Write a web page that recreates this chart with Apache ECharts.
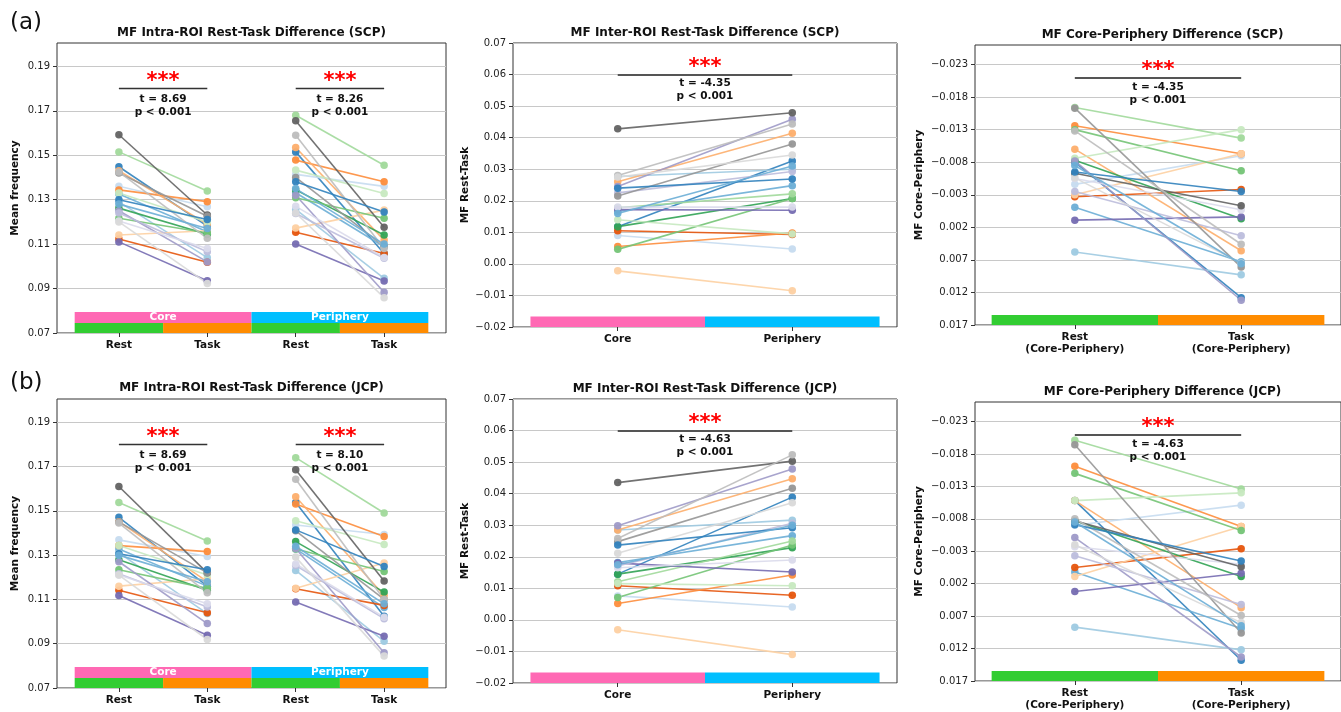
<!DOCTYPE html>
<html><head><meta charset="utf-8">
<script src="https://cdn.jsdelivr.net/npm/echarts@6/dist/echarts.min.js"></script>
<style>html,body{margin:0;padding:0;background:#fff}#c{width:1341px;height:712px}</style>
</head><body><div id="c"></div>
<script>
const FONT = '"DejaVu Sans", "Liberation Sans", sans-serif';

// ---- subject colours (tab20c, wrapping) ----
const subjectColors = ['#3182bd','#6baed6','#9ecae1','#c6dbef','#e6550d','#fd8d3c','#fdae6b','#fdd0a2',
  '#31a354','#74c476','#a1d99b','#c7e9c0','#756bb1','#9e9ac8','#bcbddc','#dadaeb',
  '#636363','#969696','#bdbdbd','#d9d9d9','#3182bd','#6baed6'];

// ---- tick labels / categories ----
const intraTicks = [0.07,0.09,0.11,0.13,0.15,0.17,0.19];
const interTicks = [-0.02,-0.01,0,0.01,0.02,0.03,0.04,0.05,0.06,0.07];
const diffTicks  = [-0.023,-0.018,-0.013,-0.008,-0.003,0.002,0.007,0.012,0.017];
const intraCategories = ['Rest','Task','Rest','Task'];
const intraGroups = ['Core','Periphery'];
const interCategories = ['Core','Periphery'];
const diffCategories = ['Rest\n(Core-Periphery)','Task\n(Core-Periphery)'];

// ---- (a) SCP ----
const scpIntraCoreRest = [0.1448,0.1325,0.1290,0.1360,0.1123,0.1344,0.1430,0.1141,0.1262,0.1216,0.1515,0.1330,0.1110,0.1250,0.1240,0.1204,0.1592,0.1420,0.1425,0.1200,0.1300,0.1280];
const scpIntraCoreTask = [0.1181,0.1156,0.1039,0.1268,0.1018,0.1291,0.1190,0.1160,0.1144,0.1150,0.1339,0.1200,0.0935,0.1020,0.1066,0.1080,0.1231,0.1225,0.1126,0.0923,0.1211,0.1170];
const scpIntraPeriRest = [0.1515,0.1331,0.1256,0.1414,0.1153,0.1478,0.1535,0.1172,0.1344,0.1309,0.1680,0.1433,0.1100,0.1320,0.1238,0.1270,0.1655,0.1400,0.1590,0.1240,0.1381,0.1350];
const scpIntraPeriTask = [0.1058,0.1088,0.0946,0.1360,0.1058,0.1381,0.1118,0.1253,0.1141,0.1216,0.1455,0.1328,0.0934,0.0883,0.1036,0.1040,0.1176,0.1090,0.1080,0.0859,0.1244,0.1100];
const scpInterCore = [0.0118,0.0166,0.0277,0.0090,0.0105,0.0055,0.0260,-0.0022,0.0118,0.0046,0.0178,0.0140,0.0172,0.0245,0.0225,0.0180,0.0428,0.0215,0.0280,0.0275,0.0240,0.0160];
const scpInterPeri = [0.0326,0.0248,0.0300,0.0047,0.0093,0.0098,0.0414,-0.0085,0.0207,0.0207,0.0222,0.0095,0.0170,0.0458,0.0293,0.0180,0.0479,0.0380,0.0443,0.0345,0.0269,0.0310];
const scpDiffRest = [-0.0080,-0.0011,0.0058,-0.0046,-0.0027,-0.0136,-0.0100,-0.0030,-0.0083,-0.0130,-0.0164,-0.0086,0.0009,-0.0082,-0.0035,-0.0055,-0.0063,-0.0163,-0.0128,-0.0056,-0.0065,-0.0075];
const scpDiffTask = [0.0128,0.0073,0.0093,-0.0090,-0.0038,-0.0093,0.0056,-0.0093,0.0007,-0.0067,-0.0117,-0.0130,0.0004,0.0132,0.0033,-0.0007,-0.0013,0.0081,0.0046,0.0075,-0.0035,0.0076];

// ---- (b) JCP ----
const jcpIntraCoreRest = [0.1471,0.1328,0.1310,0.1369,0.1141,0.1343,0.1451,0.1160,0.1279,0.1234,0.1538,0.1343,0.1118,0.1270,0.1216,0.1210,0.1610,0.1450,0.1445,0.1210,0.1306,0.1300];
const jcpIntraCoreTask = [0.1160,0.1160,0.1036,0.1294,0.1040,0.1316,0.1180,0.1193,0.1141,0.1150,0.1364,0.1210,0.0938,0.0991,0.1066,0.1080,0.1220,0.1220,0.1130,0.0919,0.1234,0.1180];
const jcpIntraPeriRest = [0.1538,0.1328,0.1231,0.1436,0.1148,0.1531,0.1564,0.1150,0.1361,0.1328,0.1740,0.1455,0.1088,0.1330,0.1253,0.1260,0.1685,0.1410,0.1643,0.1291,0.1414,0.1340];
const jcpIntraPeriTask = [0.1024,0.1063,0.0911,0.1393,0.1073,0.1384,0.1118,0.1264,0.1133,0.1226,0.1490,0.1348,0.0934,0.0859,0.1013,0.1020,0.1183,0.1100,0.1100,0.0844,0.1249,0.1080];
const jcpInterCore = [0.0145,0.0182,0.0285,0.0076,0.0108,0.0052,0.0285,-0.0031,0.0145,0.0071,0.0121,0.0115,0.0180,0.0298,0.0171,0.0165,0.0435,0.0248,0.0258,0.0211,0.0237,0.0175];
const jcpInterPeri = [0.0389,0.0267,0.0316,0.0041,0.0078,0.0142,0.0447,-0.0110,0.0229,0.0237,0.0250,0.0108,0.0152,0.0478,0.0306,0.0190,0.0503,0.0417,0.0523,0.0371,0.0292,0.0300];
const jcpDiffRest = [-0.0108,0.0002,0.0087,-0.0070,-0.0005,-0.0161,-0.0108,0.0009,-0.0077,-0.0150,-0.0201,-0.0108,0.0032,-0.0051,-0.0023,-0.0037,-0.0077,-0.0194,-0.0080,-0.0040,-0.0071,-0.0075];
const jcpDiffTask = [0.0138,0.0089,0.0122,-0.0101,-0.0034,-0.0068,0.0057,-0.0068,0.0009,-0.0062,-0.0126,-0.0120,0.0004,0.0133,0.0052,-0.0010,-0.0006,0.0096,0.0069,0.0080,-0.0015,0.0085];

// ---- statistics ----
const scpIntraT = ['8.69','8.26'];
const jcpIntraT = ['8.69','8.10'];
const scpInterT = ['-4.35'];
const jcpInterT = ['-4.63'];
const scpDiffT = ['-4.35'];
const jcpDiffT = ['-4.63'];
const pText = 'p < 0.001';

// ---------------- build ----------------
const kinds = {
  intra: {xMin:-0.7, xMax:3.7, yMin:0.07, yMax:0.2005, inverse:false, ticks:intraTicks, dec:2,
          cats:intraCategories, catPos:[0,1,2,3], name:'Mean frequency', nameGap:36,
          bracketY:0.18, textOff:17, starOff:-7, lineColor:'#333', lineWidth:1.3},
  inter: {xMin:-0.6, xMax:1.6, yMin:-0.02, yMax:0.07, inverse:false, ticks:interTicks, dec:2,
          cats:interCategories, catPos:[0,1], name:'MF Rest-Task', nameGap:42,
          bracketY:0.06, textOff:15.5, starOff:-7, lineColor:'#555', lineWidth:2},
  diff:  {xMin:-0.6, xMax:1.6, yMin:-0.026, yMax:0.017, inverse:true, ticks:diffTicks, dec:3,
          cats:diffCategories, catPos:[0,1], name:'MF Core-Periphery', nameGap:50,
          bracketY:-0.021, textOff:16, starOff:-7, lineColor:'#555', lineWidth:2}
};

const panels = [
  {kind:'intra', left:57,  top:43,  width:389, height:290, title:'MF Intra-ROI Rest-Task Difference (SCP)', ty:33,
   pairs:[[scpIntraCoreRest, scpIntraCoreTask],[scpIntraPeriRest, scpIntraPeriTask]], t:scpIntraT},
  {kind:'inter', left:513, top:43,  width:384, height:284, title:'MF Inter-ROI Rest-Task Difference (SCP)', ty:33,
   pairs:[[scpInterCore, scpInterPeri]], t:scpInterT},
  {kind:'diff',  left:975, top:45,  width:375, height:280, title:'MF Core-Periphery Difference (SCP)', ty:35,
   pairs:[[scpDiffRest, scpDiffTask]], t:scpDiffT},
  {kind:'intra', left:57,  top:399, width:389, height:289, title:'MF Intra-ROI Rest-Task Difference (JCP)', ty:388,
   pairs:[[jcpIntraCoreRest, jcpIntraCoreTask],[jcpIntraPeriRest, jcpIntraPeriTask]], t:jcpIntraT},
  {kind:'inter', left:513, top:399, width:384, height:284, title:'MF Inter-ROI Rest-Task Difference (JCP)', ty:389,
   pairs:[[jcpInterCore, jcpInterPeri]], t:jcpInterT},
  {kind:'diff',  left:975, top:402, width:375, height:280, title:'MF Core-Periphery Difference (JCP)', ty:392,
   pairs:[[jcpDiffRest, jcpDiffTask]], t:jcpDiffT}
];

function fmt(dec){ return v => (v < -1e-9 ? '\u2212' : '') + Math.abs(v).toFixed(dec); }

const PINK='#ff69b4', CYAN='#00bfff', GREEN='#32cd32', ORANGE='#ff8c00';
function bands(kind){
  const box = (x0,x1,y0,y1,color,label) => [
    {xAxis:x0, yAxis:y0, itemStyle:{color, opacity:1}, label: label ? {show:true, formatter:label, position:'inside', color:'#fff', fontWeight:'bold', fontSize:10.5, fontFamily:FONT} : {show:false}},
    {xAxis:x1, yAxis:y1}
  ];
  if (kind==='intra') {
    return [
      box(-0.5,1.5,0.0745,0.07945,PINK,intraGroups[0]),
      box(1.5,3.5,0.0745,0.07945,CYAN,intraGroups[1]),
      box(-0.5,0.5,0.07,0.0745,GREEN), box(0.5,1.5,0.07,0.0745,ORANGE),
      box(1.5,2.5,0.07,0.0745,GREEN), box(2.5,3.5,0.07,0.0745,ORANGE)
    ];
  }
  if (kind==='inter') {
    return [box(-0.5,0.5,-0.02,-0.0167,PINK), box(0.5,1.5,-0.02,-0.0167,CYAN)];
  }
  return [box(-0.5,0.5,0.01547,0.017,GREEN), box(0.5,1.5,0.01547,0.017,ORANGE)];
}

const grid=[], xAxis=[], yAxis=[], series=[], graphic=[];
panels.forEach((p,i) => {
  const k = kinds[p.kind];
  grid.push({left:p.left, top:p.top, width:p.width, height:p.height, show:true,
             borderColor:'#333', borderWidth:1, backgroundColor:'transparent'});
  xAxis.push({gridIndex:i, type:'value', min:k.xMin, max:k.xMax,
    axisLine:{show:false, onZero:false}, splitLine:{show:false},
    axisTick:{show:true, length:4, customValues:k.catPos, lineStyle:{color:'#333'}},
    axisLabel:{show:true, customValues:k.catPos, formatter:v => k.cats[Math.round(v)],
      fontFamily:FONT, fontWeight:'bold', fontSize:10.5, color:'#111', margin:6, lineHeight:12.5}});
  yAxis.push({gridIndex:i, type:'value', min:k.yMin, max:k.yMax, inverse:k.inverse,
    axisLine:{show:false, onZero:false},
    axisTick:{show:true, length:4, customValues:k.ticks, lineStyle:{color:'#333'}},
    axisLabel:{show:true, customValues:k.ticks, formatter:fmt(k.dec), fontFamily:FONT, fontSize:10, color:'#222', margin:7},
    splitLine:{show:true, lineStyle:{color:'#c8c8c8', width:1.2}},
    name:k.name, nameLocation:'middle', nameGap:k.nameGap, nameRotate:90,
    nameTextStyle:{fontFamily:FONT, fontWeight:'bold', fontSize:10.5, color:'#111'}});

  // helper series: bands, significance brackets and labels
  const mlData=[], mpData=[];
  p.pairs.forEach((pair,g) => {
    const x0 = 2*g, x1 = 2*g+1;
    mlData.push([{coord:[x0,k.bracketY]},{coord:[x1,k.bracketY]}]);
    mpData.push({coord:[(x0+x1)/2,k.bracketY], label:{show:true, position:'inside', formatter:'***',
      color:'#ff0000', fontSize:21, fontWeight:'bold', fontFamily:FONT, offset:[0,k.starOff]}});
    mpData.push({coord:[(x0+x1)/2,k.bracketY], label:{show:true, position:'inside',
      formatter:'t = '+p.t[g]+'\n'+pText, color:'#111', fontSize:10.5, fontWeight:'bold',
      fontFamily:FONT, lineHeight:13, align:'center', offset:[0,k.textOff]}});
  });
  series.push({type:'scatter', xAxisIndex:i, yAxisIndex:i, data:[], silent:true, z:1,
    markArea:{silent:true, data:bands(p.kind)},
    markLine:{silent:true, symbol:['none','none'], label:{show:false},
      lineStyle:{color:k.lineColor, width:k.lineWidth, type:'solid'}, data:mlData},
    markPoint:{silent:true, symbol:'circle', symbolSize:0, data:mpData}
  });

  // subject lines
  p.pairs.forEach((pair,g) => {
    const [a,b] = pair;
    a.forEach((v,s) => {
      series.push({type:'line', xAxisIndex:i, yAxisIndex:i, silent:true,
        data:[[2*g, v],[2*g+1, b[s]]],
        symbol:'circle', symbolSize:7.5, showSymbol:true,
        lineStyle:{color:subjectColors[s], width:1.6, opacity:0.9},
        itemStyle:{color:subjectColors[s], opacity:0.95}, z:3});
    });
  });

  graphic.push({type:'text', x:p.left + p.width/2, y:p.ty, style:{text:p.title, fill:'#111',
    font:'bold 12px '+FONT, textAlign:'center', textVerticalAlign:'middle'}});
});
graphic.push({type:'text', x:10, y:23, style:{text:'(a)', fill:'#111', font:'23px '+FONT, textVerticalAlign:'middle'}});
graphic.push({type:'text', x:10, y:383, style:{text:'(b)', fill:'#111', font:'23px '+FONT, textVerticalAlign:'middle'}});

const chart = echarts.init(document.getElementById('c'), null, {renderer:'canvas'});
chart.setOption({animation:false, backgroundColor:'#fff', textStyle:{fontFamily:FONT},
  grid, xAxis, yAxis, series, graphic});
</script></body></html>
